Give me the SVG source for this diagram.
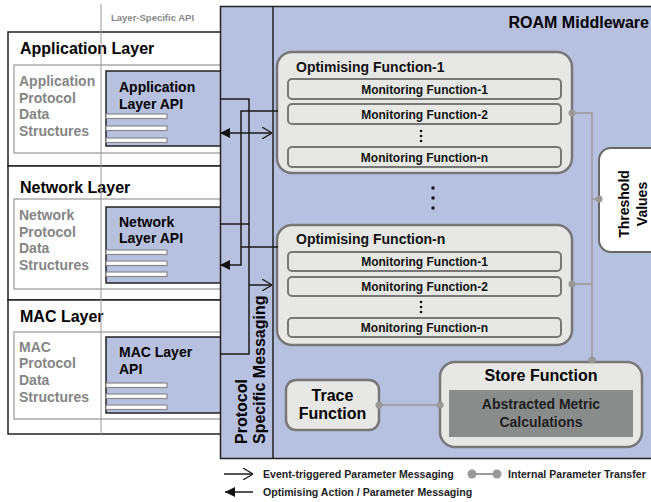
<svg xmlns="http://www.w3.org/2000/svg" width="651" height="502" viewBox="0 0 651 502">
<style>
text{font-family:"Liberation Sans",Arial,sans-serif;font-weight:bold}
.title{font-size:16px;fill:#000}
.gray{font-size:14px;fill:#858585}
.api{font-size:14px;fill:#000}
.mf{font-size:12px;fill:#111;text-anchor:middle}
.opt{font-size:14px;fill:#111}
.leg{font-size:10.6px;fill:#222}
.layer{fill:#fff;stroke:#222;stroke-width:1.5}
.inner{fill:#fff;stroke:#aaa;stroke-width:1.5}
.apibox{fill:#b8c0e0;stroke:#222;stroke-width:1.5}
.bar{fill:#fff;stroke:#888;stroke-width:1.2}
.optbox{fill:#e7e8e5;stroke:#777;stroke-width:2.5}
.mfbox{fill:#e7e8e5;stroke:#777;stroke-width:2}
.conn{fill:none;stroke:#1a1a1a;stroke-width:1.5}
.int{fill:none;stroke:#999;stroke-width:1.5}
.dot{fill:#999}
.el{fill:#111}
</style>
<defs>
<marker id="open" viewBox="0 0 10 12" refX="10" refY="6" markerWidth="10" markerHeight="12" markerUnits="userSpaceOnUse" orient="auto">
<path d="M0,0 L10,6 L0,12" fill="none" stroke="#1a1a1a" stroke-width="1.2"/>
</marker>
<marker id="filled" viewBox="0 0 10 10" refX="10" refY="5" markerWidth="10" markerHeight="10" markerUnits="userSpaceOnUse" orient="auto">
<path d="M0,0 L10,5 L0,10 Z" fill="#111"/>
</marker>
</defs>

<g id="app-layer">
<rect class="layer" x="8" y="32" width="214" height="134"/>
<rect class="inner" x="14" y="65" width="208" height="88"/>
<text class="title" x="20" y="54">Application Layer</text>
<text class="gray" x="19" y="86">Application</text>
<text class="gray" x="19" y="103">Protocol</text>
<text class="gray" x="19" y="119">Data</text>
<text class="gray" x="19" y="136">Structures</text>
</g>
<g id="net-layer">
<rect class="layer" x="8" y="166" width="214" height="134"/>
<rect class="inner" x="14" y="199" width="208" height="90"/>
<text class="title" x="20" y="193">Network Layer</text>
<text class="gray" x="19" y="220">Network</text>
<text class="gray" x="19" y="237">Protocol</text>
<text class="gray" x="19" y="253">Data</text>
<text class="gray" x="19" y="270">Structures</text>
</g>
<g id="mac-layer">
<rect class="layer" x="8" y="300" width="214" height="134"/>
<rect class="inner" x="14" y="332" width="208" height="87"/>
<text class="title" x="20" y="322">MAC Layer</text>
<text class="gray" x="19" y="352">MAC</text>
<text class="gray" x="19" y="368">Protocol</text>
<text class="gray" x="19" y="385">Data</text>
<text class="gray" x="19" y="402">Structures</text>
</g>

<g id="app-api">
<rect class="apibox" x="106" y="71" width="116" height="75"/>
<rect class="bar" x="106" y="114" width="61" height="4.5"/>
<rect class="bar" x="106" y="126" width="61" height="4.5"/>
<rect class="bar" x="106" y="138" width="61" height="4.5"/>
<text class="api" x="119" y="92">Application</text>
<text class="api" x="119" y="109">Layer API</text>
</g>
<g id="net-api">
<rect class="apibox" x="106" y="207" width="116" height="76"/>
<rect class="bar" x="106" y="250" width="61" height="4.5"/>
<rect class="bar" x="106" y="261" width="61" height="4.5"/>
<rect class="bar" x="106" y="272" width="61" height="4.5"/>
<text class="api" x="119" y="227">Network</text>
<text class="api" x="119" y="243">Layer API</text>
</g>
<g id="mac-api">
<rect class="apibox" x="106" y="337" width="116" height="76"/>
<rect class="bar" x="106" y="383" width="61" height="4.5"/>
<rect class="bar" x="106" y="394" width="61" height="4.5"/>
<rect class="bar" x="106" y="405" width="61" height="4.5"/>
<text class="api" x="119" y="357">MAC Layer</text>
<text class="api" x="119" y="374">API</text>
</g>

<g id="api-divider">
<line x1="101" y1="4" x2="101" y2="434" stroke="#999" stroke-width="1"/>
<text x="111" y="21" font-size="9.5" fill="#888">Layer-Specific API</text>
</g>

<g id="roam">
<rect x="220.5" y="6.5" width="440" height="452" fill="#b8c0e0" stroke="#222" stroke-width="1.5"/>
<text class="title" x="649" y="28" text-anchor="end">ROAM Middleware</text>
</g>
<g id="protocol-messaging">
<line x1="273" y1="6.5" x2="273" y2="458.5" stroke="#222" stroke-width="1.5"/>
<text class="title" transform="translate(247,444) rotate(-90)">Protocol</text>
<text class="title" transform="translate(265,444) rotate(-90)">Specific Messaging</text>
</g>

<g id="opt-1">
<rect class="optbox" x="277" y="52" width="295" height="121" rx="15"/>
<text class="opt" x="296" y="72">Optimising Function-1</text>
<rect class="mfbox" x="288" y="79" width="273" height="20" rx="4"/>
<text class="mf" x="424.5" y="93.5">Monitoring Function-1</text>
<rect class="mfbox" x="288" y="104" width="273" height="20" rx="4"/>
<text class="mf" x="424.5" y="118.5">Monitoring Function-2</text>
<circle class="el" cx="421" cy="131" r="1.3"/>
<circle class="el" cx="421" cy="136" r="1.3"/>
<circle class="el" cx="421" cy="141" r="1.3"/>
<rect class="mfbox" x="288" y="147" width="273" height="20" rx="4"/>
<text class="mf" x="424.5" y="161.5">Monitoring Function-n</text>
</g>

<g id="ellipsis">
<rect class="el" x="431.5" y="186.5" width="3" height="3"/>
<rect class="el" x="431.5" y="196.5" width="3" height="3"/>
<rect class="el" x="431.5" y="206.5" width="3" height="3"/>
</g>

<g id="opt-n">
<rect class="optbox" x="277" y="225" width="295" height="120" rx="15"/>
<text class="opt" x="296" y="244">Optimising Function-n</text>
<rect class="mfbox" x="288" y="252" width="273" height="19" rx="4"/>
<text class="mf" x="424.5" y="266">Monitoring Function-1</text>
<rect class="mfbox" x="288" y="277" width="273" height="19" rx="4"/>
<text class="mf" x="424.5" y="291">Monitoring Function-2</text>
<circle class="el" cx="421" cy="302" r="1.3"/>
<circle class="el" cx="421" cy="307" r="1.3"/>
<circle class="el" cx="421" cy="312" r="1.3"/>
<rect class="mfbox" x="288" y="318" width="273" height="19" rx="4"/>
<text class="mf" x="424.5" y="332">Monitoring Function-n</text>
</g>

<g id="threshold">
<rect x="599" y="148" width="70" height="104" rx="12" fill="#fff" stroke="#666" stroke-width="2"/>
<text font-size="14" fill="#000" text-anchor="middle" transform="translate(629,204) rotate(-90)">Threshold</text>
<text font-size="14" fill="#000" text-anchor="middle" transform="translate(647,204) rotate(-90)">Values</text>
</g>

<g id="store">
<rect class="optbox" x="440" y="362" width="202" height="85" rx="15"/>
<text class="title" x="541" y="381" text-anchor="middle">Store Function</text>
<rect x="449" y="390" width="184" height="47" fill="#8a8c8c"/>
<text x="541" y="409" font-size="14" fill="#1e1e1e" text-anchor="middle">Abstracted Metric</text>
<text x="541" y="427" font-size="14" fill="#1e1e1e" text-anchor="middle">Calculations</text>
</g>

<g id="trace">
<rect class="optbox" x="286" y="380" width="93" height="50" rx="10"/>
<text class="title" x="332.5" y="401" text-anchor="middle">Trace</text>
<text class="title" x="332.5" y="419" text-anchor="middle">Function</text>
</g>

<g id="connectors">
<path class="conn" d="M220,99 H249 V354 H220"/>
<path class="conn" d="M220,224 H249"/>
<path class="conn" d="M249,133 H272" marker-end="url(#open)"/>
<path class="conn" d="M249,285 H272" marker-end="url(#open)"/>
<path class="conn" d="M278,111 H241 V265 H220" marker-end="url(#filled)"/>
<path class="conn" d="M278,247 H241"/>
<path class="conn" d="M249,133 H220" marker-end="url(#filled)"/>
<path class="int" d="M572,113 H592 V360"/>
<path class="int" d="M572,284 H592"/>
<path class="int" d="M592,199 H599"/>
<path class="int" d="M379,405 H440"/>
<circle class="dot" cx="572" cy="113" r="3.5"/>
<circle class="dot" cx="572" cy="284" r="3.5"/>
<circle class="dot" cx="599" cy="199" r="3.5"/>
<circle class="dot" cx="592" cy="360" r="3.5"/>
<circle class="dot" cx="379" cy="405" r="3.5"/>
<circle class="dot" cx="440" cy="405" r="3.5"/>
</g>

<g id="legend">
<path class="conn" d="M224,474 H253" marker-end="url(#open)"/>
<text class="leg" x="263" y="478">Event-triggered Parameter Messaging</text>
<line x1="472" y1="474" x2="497" y2="474" stroke="#999" stroke-width="2"/>
<circle class="dot" cx="472" cy="474" r="4.5"/>
<circle class="dot" cx="497" cy="474" r="4.5"/>
<text class="leg" x="508" y="478">Internal Parameter Transfer</text>
<path class="conn" d="M253,492 H225" stroke-width="2" marker-end="url(#filled)"/>
<text class="leg" x="263" y="496">Optimising Action / Parameter Messaging</text>
</g>
</svg>
